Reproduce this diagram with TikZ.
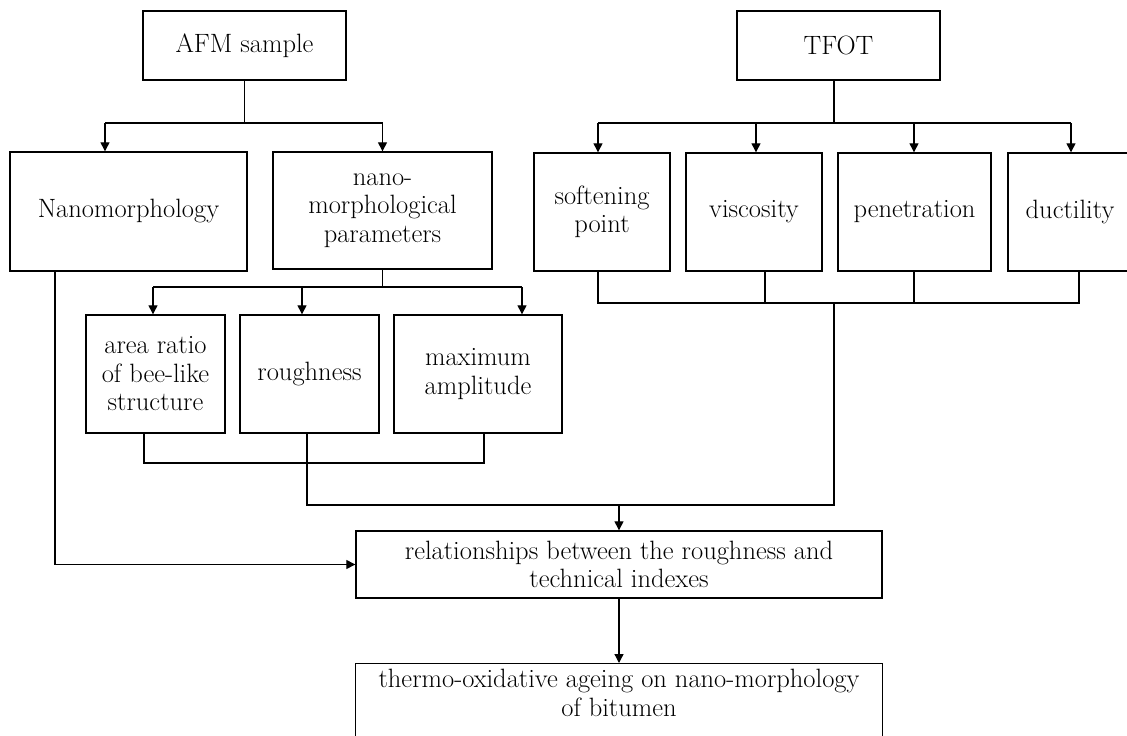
\documentclass[tikz,border=0pt]{standalone}
\usetikzlibrary{arrows.meta,calc}
\begin{document}
\begin{tikzpicture}[x=1pt,y=-1pt]
\tikzset{
  box/.style={draw, line width=1.4pt, inner sep=0pt, align=center, font=\fontsize{26.5}{28.5}\selectfont},
  txt/.style={inner sep=0pt, align=center, font=\fontsize{26.5}{29}\selectfont},
  conn/.style={line width=1.3pt},
  arr/.style={conn, -{Triangle[length=9pt,width=9pt]}}
}
\useasboundingbox (0,0) rectangle (1127,736);
\clip (0,0) rectangle (1127,736);
\fill[white] (0,0) rectangle (1127,736);

% boxes
\node[box, minimum width=203pt, minimum height=69pt] (afm) at (244.5,45.5) {AFM sample};
\node[box, minimum width=203pt, minimum height=69pt] (tfot) at (838.5,45.5) {TFOT};
\node[box, minimum width=237pt, minimum height=119pt] (nano) at (128.5,211.5) {Nanomorphology};
\node[box, minimum width=219pt, minimum height=117pt] (params) at (382.5,210.5) {nano-\\morphological\\parameters};
\node[box, minimum width=136pt, minimum height=118pt] (soft) at (602,212) {softening\\point};
\node[box, minimum width=136pt, minimum height=118pt] (visc) at (754,212) {viscosity};
\node[box, minimum width=153pt, minimum height=118pt] (pen) at (914.5,212) {penetration};
\node[box, minimum width=124pt, minimum height=118pt] (duct) at (1070,212) {ductility};
\node[box, minimum width=139pt, minimum height=118pt] (area) at (155.5,374) {area ratio\\of bee-like\\structure};
\node[box, minimum width=139pt, minimum height=118pt] (rough) at (309.5,374) {roughness};
\node[box, minimum width=168pt, minimum height=118pt] (maxamp) at (478,374) {maximum\\amplitude};
\node[box, minimum width=526pt, minimum height=67pt] (rel) at (619,564.5) {relationships between the roughness and\\technical indexes};
\node[box, minimum width=527pt, minimum height=100pt, anchor=north] (thermo) at (619,663) {};
\node[txt] (thermotxt) at (619,693) {thermo-oxidative ageing on nano-morphology\\of bitumen};

% AFM branch
\coordinate (ja) at (244.5,123);
\coordinate (jaL) at (105,123);
\coordinate (jaR) at (382.5,123);
\draw[conn] (afm.south) -- (ja);
\draw[conn] (jaL) -- (jaR);
\draw[arr] (jaL) -- (jaL |- nano.north);
\draw[arr] (jaR) -- (params.north);

% TFOT branch
\coordinate (jt) at (834,123);
\coordinate (jtL) at (598,123);
\coordinate (jt2) at (756,123);
\coordinate (jt3) at (914,123);
\coordinate (jtR) at (1071,123);
\draw[conn] (jt |- tfot.south) -- (jt);
\draw[conn] (jtL) -- (jtR);
\draw[arr] (jtL) -- (jtL |- soft.north);
\draw[arr] (jt2) -- (jt2 |- visc.north);
\draw[arr] (jt3) -- (jt3 |- pen.north);
\draw[arr] (jtR) -- (jtR |- duct.north);

% parameters branch
\coordinate (jp) at (382.5,287);
\coordinate (jpL) at (153,287);
\coordinate (jpM) at (302,287);
\coordinate (jpR) at (522,287);
\draw[conn] (params.south) -- (jp);
\draw[conn] (jpL) -- (jpR);
\draw[arr] (jpL) -- (jpL |- area.north);
\draw[arr] (jpM) -- (jpM |- rough.north);
\draw[arr] (jpR) -- (jpR |- maxamp.north);

% area / maximum amplitude collector
\coordinate (ca) at (144,463);
\coordinate (cm) at (484,463);
\draw[conn] (ca |- area.south) -- (ca) -- (cm) -- (cm |- maxamp.south);

% TFOT collector
\coordinate (tcL) at (598,303);
\coordinate (tcV) at (765,303);
\coordinate (tcP) at (914,303);
\coordinate (tcR) at (1079,303);
\coordinate (tc) at (834,303);
\draw[conn] (tcL |- soft.south) -- (tcL) -- (tcR) -- (tcR |- duct.south);
\draw[conn] (tcV |- visc.south) -- (tcV);
\draw[conn] (tcP |- pen.south) -- (tcP);

% roughness to relationships
\coordinate (r1) at (307,505);
\coordinate (r2) at (834,505);
\coordinate (rm) at (619,505);
\draw[conn] (r1 |- rough.south) -- (r1) -- (r2) -- (tc);
\draw[arr] (rm) -- (rel.north);

% nanomorphology to relationships
\coordinate (n1) at (55,564.5);
\draw[arr] (n1 |- nano.south) -- (n1) -- (rel.west);

% relationships to conclusion
\draw[arr] (rel.south) -- (thermo.north);
\end{tikzpicture}
\end{document}
